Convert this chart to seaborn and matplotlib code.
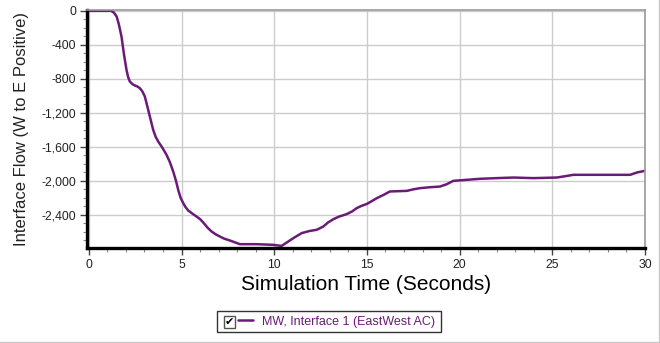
import numpy as np
import pandas as pd
import matplotlib
matplotlib.use("Agg")
import matplotlib.pyplot as plt
from matplotlib.patches import Rectangle
from matplotlib.lines import Line2D
from matplotlib.ticker import MultipleLocator, FuncFormatter
import seaborn as sns

# ---- data ----
time_s = [0.0, 1.2, 1.35, 1.5, 1.62, 1.76, 1.9, 2.03, 2.12, 2.21, 2.35, 2.48,
          2.62, 2.75, 2.88, 3.02, 3.15, 3.29, 3.47, 3.6, 3.74, 3.95, 4.19,
          4.37, 4.55, 4.7, 4.82, 4.95, 5.09, 5.22, 5.36, 5.6, 5.81, 6.0, 6.17,
          6.4, 6.62, 6.85, 7.07, 7.3, 7.61, 7.9, 8.15, 9.05, 9.95, 10.2, 10.4,
          10.67, 11.03, 11.48, 11.9, 12.29, 12.65, 12.9, 13.19, 13.5, 13.9,
          14.2, 14.45, 14.7, 14.99, 15.25, 15.53, 15.9, 16.24, 17.15, 17.5,
          17.86, 18.4, 18.94, 19.3, 19.66, 20.38, 21.1, 22.0, 22.9, 23.98,
          25.24, 25.7, 26.14, 29.2, 29.56, 30.0]
flow_mw = [0, 0, -20, -67, -160, -302, -520, -694, -780, -831, -862, -878,
           -890, -910, -945, -1008, -1120, -1243, -1400, -1480, -1537, -1605,
           -1694, -1780, -1890, -2000, -2106, -2200, -2262, -2310, -2349, -2388,
           -2420, -2450, -2490, -2550, -2596, -2630, -2655, -2680, -2702,
           -2725, -2745, -2745, -2753, -2760, -2765, -2726, -2674, -2615,
           -2590, -2576, -2537, -2490, -2451, -2420, -2392, -2360, -2321,
           -2295, -2272, -2240, -2204, -2165, -2125, -2118, -2100, -2086,
           -2075, -2067, -2040, -2000, -1988, -1976, -1968, -1961, -1968,
           -1961, -1945, -1929, -1929, -1902, -1882]
x_ticks = [0, 5, 10, 15, 20, 25, 30]
y_ticks = [0, -400, -800, -1200, -1600, -2000, -2400]
series_label = "MW, Interface 1 (EastWest AC)"
x_label = "Simulation Time (Seconds)"
y_label = "Interface Flow (W to E Positive)"

df = pd.DataFrame({"t": time_s, "mw": flow_mw})

sns.set_style("white")
plt.rcParams["font.family"] = ["Liberation Sans", "DejaVu Sans"]

LINE_C = "#6c1a78"
W, H = 660, 343
fig = plt.figure(figsize=(6.6, 3.43), dpi=100)
ax = fig.add_axes([87 / W, 1 - 248 / H, (645 - 87) / W, (248 - 10) / H])

sns.lineplot(data=df, x="t", y="mw", ax=ax, color=LINE_C, linewidth=1.8,
             label=series_label, legend=False)

ax.set_xlim(-0.1, 30)
ax.set_ylim(-2790, 10)
ax.set_xticks(x_ticks)
ax.set_yticks(y_ticks)
ax.xaxis.set_minor_locator(MultipleLocator(1))
ax.yaxis.set_minor_locator(MultipleLocator(100))
ax.yaxis.set_major_formatter(FuncFormatter(lambda v, p: f"{int(v):,}"))
ax.grid(True, which="major", color="#cccccc", linewidth=1.0)
ax.set_axisbelow(True)

ax.tick_params(axis="both", which="both", bottom=True, left=True)
ax.tick_params(axis="both", which="major", direction="out", length=5, width=1,
               color="#444444", labelsize=8.8, labelcolor="#222222", pad=3)
ax.tick_params(axis="both", which="minor", direction="out", length=3, width=0.8,
               color="#888888")

for s in ["left", "bottom"]:
    ax.spines[s].set_color("black")
    ax.spines[s].set_linewidth(2.4)
for s in ["top", "right"]:
    ax.spines[s].set_color("#999999")
    ax.spines[s].set_linewidth(1.2)

ax.set_xlabel(x_label, fontsize=15, color="black", labelpad=3)
ax.set_ylabel(y_label, fontsize=12, color="#222222", labelpad=9)

# legend
handles, labels = ax.get_legend_handles_labels()
leg = fig.legend(handles, labels, loc="center left",
                 bbox_to_anchor=(238 / W, 1 - 321.5 / H), frameon=False,
                 borderpad=0, borderaxespad=0, handlelength=1.2,
                 handletextpad=0.7, fontsize=9.0)
for t in leg.get_texts():
    t.set_color(LINE_C)
fig.patches.append(Rectangle((217 / W, 1 - 332 / H), (441 - 217) / W, 21 / H,
                             transform=fig.transFigure, fill=False,
                             edgecolor="#333333", linewidth=1.0))
fig.patches.append(Rectangle((224 / W, 1 - 328 / H), 11 / W, 12 / H,
                             transform=fig.transFigure, fill=True,
                             facecolor="white", edgecolor="#555555",
                             linewidth=1.0))
fig.text(229.5 / W, 1 - 322 / H, "\u2714", fontsize=8, ha="center",
         va="center", color="black", family="DejaVu Sans")

# outer border (right and bottom)
fig.lines.append(Line2D([658.5 / W, 658.5 / W], [1 - 342 / H, 1.0],
                        transform=fig.transFigure, color="#c8c8c8", lw=1))
fig.lines.append(Line2D([0, 658.5 / W], [1 - 341.5 / H, 1 - 341.5 / H],
                        transform=fig.transFigure, color="#c8c8c8", lw=1))

fig.savefig("out.png", dpi=100)
